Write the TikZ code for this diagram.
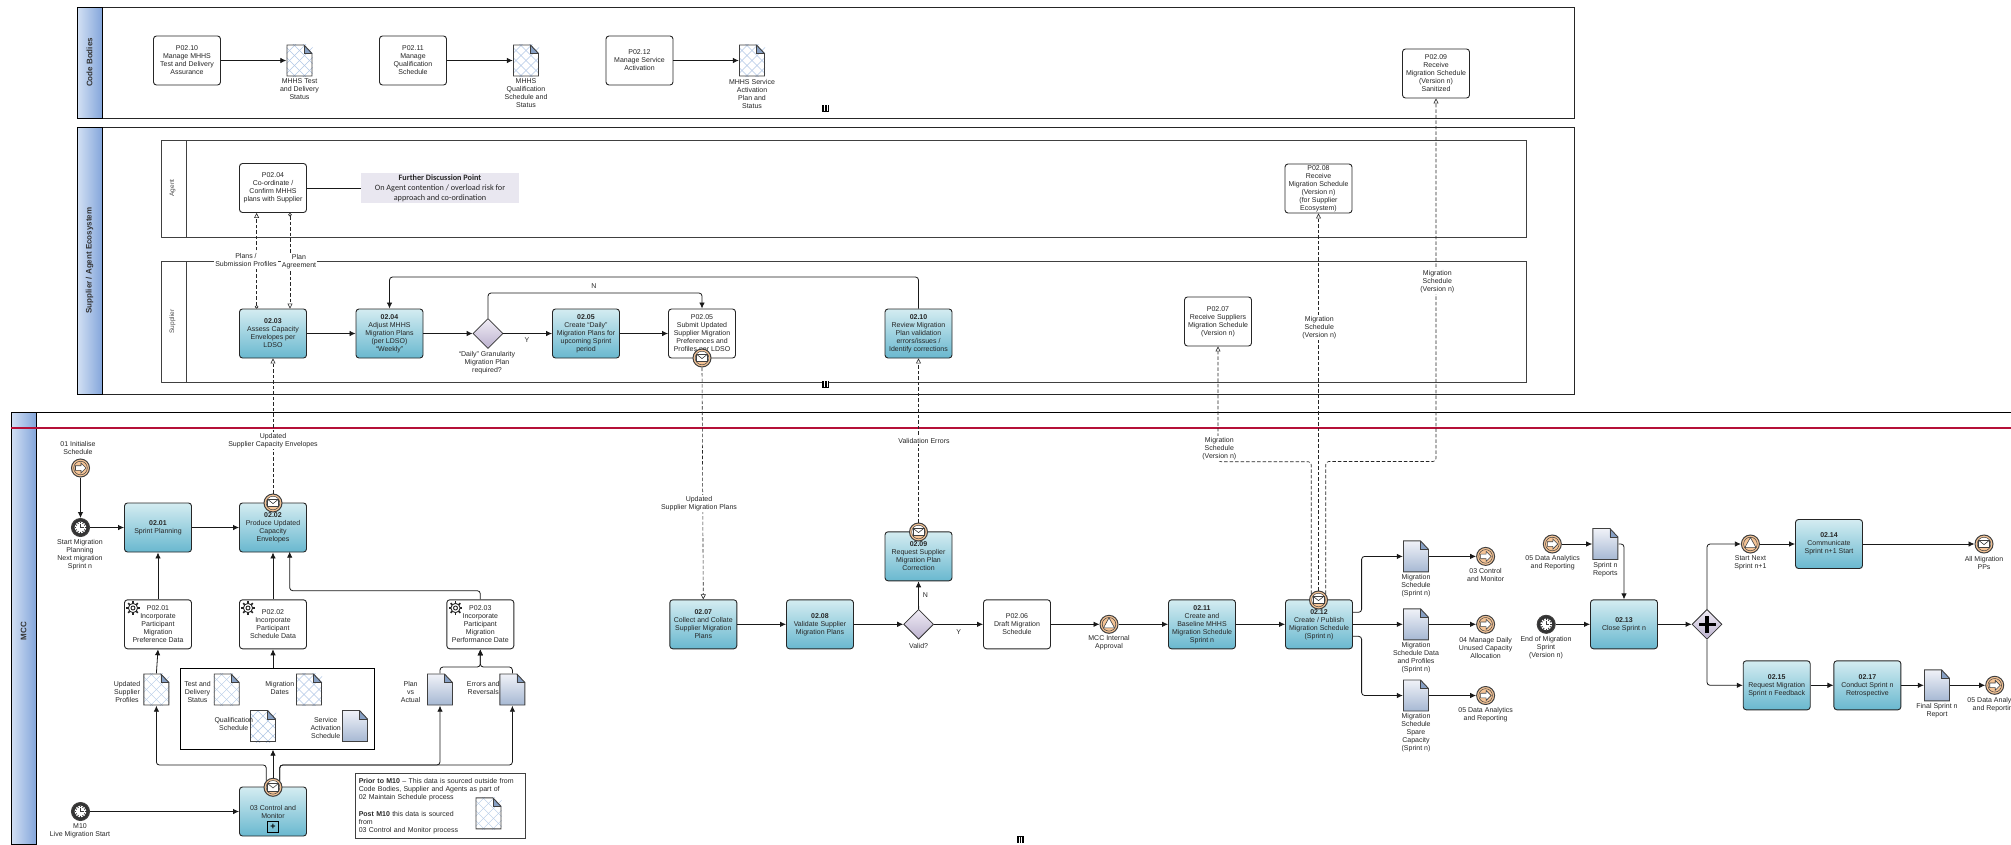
\documentclass[tikz,border=0pt]{standalone}
\usepackage{fontspec}
\usepackage{xcolor}
\usepackage{tikz}
\usetikzlibrary{arrows.meta,shapes.geometric}
\setmainfont{Liberation Sans}
\newfontfamily\calfont{Carlito}
\definecolor{taskband}{RGB}{212, 236, 241}
\definecolor{taskdeep}{RGB}{105, 184, 207}
\definecolor{poolband}{RGB}{210, 224, 244}
\definecolor{pooldeep}{RGB}{132, 166, 219}
\definecolor{doctop}{RGB}{240, 242, 248}
\definecolor{docbot}{RGB}{166, 184, 211}
\definecolor{foldblue}{RGB}{135, 160, 196}
\definecolor{hatchblue}{RGB}{178, 200, 230}
\definecolor{gatetop}{RGB}{240, 236, 245}
\definecolor{gatebot}{RGB}{188, 178, 207}
\definecolor{evtpeach}{RGB}{245, 196, 150}
\definecolor{notegrey}{RGB}{233, 231, 240}
\definecolor{mccred}{RGB}{181, 16, 56}

\newcommand{\docpath}{(-12.5,15.5) -- (-12.5,-15.5) -- (4.5,-15.5) -- (12.5,-7) -- (12.5,15.5) -- cycle}
\newcommand{\docfold}{
    \fill[foldblue] (4.5,-15.5) -- (4.5,-7) -- (12.5,-7) -- cycle;
    \draw[line width=.5pt, black!75] (4.5,-15.5) -- (4.5,-7) -- (12.5,-7);
    \draw[line width=.9pt, black!75] \docpath;
}
\newcommand{\shadedoc}{
    \begin{scope}[shift={(path picture bounding box.center)}]
        \shade[top color=doctop, bottom color=docbot] \docpath;
        \docfold
    \end{scope}
}
\newcommand{\hatchdoc}{
    \begin{scope}[shift={(path picture bounding box.center)}]
        \fill[white] \docpath;
        \foreach \k in {-50,-40,...,50} {
            \draw[hatchblue, line width=.4pt] (\k-20,-20) -- (\k+20,20);
            \draw[hatchblue, line width=.4pt] (\k-20,20) -- (\k+20,-20);
        }
        \docfold
    \end{scope}
}
\newcommand{\linkicon}{
    \begin{scope}[shift={(path picture bounding box.center)}]
        \draw[line width=.5pt] (0,0) circle (6.8);
        \draw[fill=white, line width=.6pt] (-5,-2.3) -- (.5,-2.3) -- (.5,-5) -- (5.5,0) -- (.5,5) -- (.5,2.3) -- (-5,2.3) -- cycle;
    \end{scope}
}
\newcommand{\mailicon}{
    \begin{scope}[shift={(path picture bounding box.center)}]
        \fill[white] (0,0) circle (6.8);
        \fill[evtpeach] (-7,3) rectangle (7,8);
        \draw[fill=white, line width=.6pt] (-5.5,-3.8) rectangle (5.5,3.6);
        \draw[line width=.6pt] (-5.5,-3.8) -- (0,.6) -- (5.5,-3.8);
        \draw[line width=.5pt] (0,0) circle (6.8);
    \end{scope}
}
\newcommand{\clockicon}{
    \begin{scope}[shift={(path picture bounding box.center)}]
        \fill[black!80] (0,0) circle (9);
        \fill[white] (0,0) circle (5.8);
        \foreach \a in {0,30,...,330} {
            \draw[line width=.9pt, black!80] (\a:4.2) -- (\a:6);
        }
        \draw[line width=.7pt] (0,-3.5) -- (0,0) -- (3,0);
    \end{scope}
}
\newcommand{\triicon}{
    \begin{scope}[shift={(path picture bounding box.center)}]
        \draw[line width=.5pt] (0,0) circle (6.8);
        \draw[fill=white, line width=.6pt] (0,-6.5) -- (5.6,3.6) -- (-5.6,3.6) -- cycle;
    \end{scope}
}
\newcommand{\gearicon}{
    \begin{scope}[shift={(path picture bounding box.center)}]
        \foreach \a in {0,45,...,315} {
            \draw[line width=1.6pt, black!85] (\a:4) -- (\a:6.8);
        }
        \draw[fill=white, draw=black!85, line width=.9pt] (0,0) circle (4.6);
        \draw[line width=.9pt, black!85] (0,0) circle (2);
    \end{scope}
}
\newcommand{\plusicon}{
    \begin{scope}[shift={(path picture bounding box.center)}]
        \fill[black] (-8.5,-1.8) rectangle (8.5,1.8);
        \fill[black] (-1.8,-8.5) rectangle (1.8,8.5);
    \end{scope}
}
\newcommand{\barsicon}{
    \begin{scope}[shift={(path picture bounding box.center)}]
        \draw[white, line width=.2pt] (-1.1,-3) -- (-1.1,3);
        \draw[white, line width=.2pt] (1.1,-3) -- (1.1,3);
    \end{scope}
}

\tikzset{
    txt/.style={font=\fontsize{7}{8}\selectfont, text=black!85, align=center, inner sep=0pt},
    lbl/.style={txt},
    wlbl/.style={txt, fill=white, inner sep=1pt},
    boxbase/.style={txt, draw=black!85, line width=.9pt, rounded corners=3pt, minimum width=67pt, minimum height=49pt},
    task/.style={boxbase, top color=taskband, bottom color=taskdeep},
    ptask/.style={boxbase, fill=white},
    gate/.style={diamond, draw=black!80, line width=.8pt, minimum width=30pt, minimum height=30pt, inner sep=0pt, top color=gatetop, bottom color=gatebot},
    doc/.style={minimum width=26pt, minimum height=32pt, inner sep=0pt, path picture={\shadedoc}},
    dochatch/.style={minimum width=26pt, minimum height=32pt, inner sep=0pt, path picture={\hatchdoc}},
    evt/.style={circle, draw=black!75, line width=1pt, fill=evtpeach, minimum size=18pt, inner sep=0pt},
    evtlink/.style={evt, path picture={\linkicon}},
    evtmail/.style={evt, path picture={\mailicon}},
    evttimer/.style={evt, path picture={\clockicon}},
    evttri/.style={evt, path picture={\triicon}},
    gearmark/.style={minimum size=14pt, inner sep=0pt, path picture={\gearicon}},
    pagemark/.style={fill=black, minimum size=7pt, inner sep=0pt, path picture={\barsicon}},
    flow/.style={draw=black!90, line width=.8pt, rounded corners=3pt, -{Latex[length=6pt,width=5.5pt]}},
    plainflow/.style={draw=black!90, line width=.8pt},
    msg/.style={draw=black!85, line width=.6pt, rounded corners=3pt, dash pattern=on 3.5pt off 2pt, -{Triangle[open,fill=white,length=5pt,width=5pt]}},
    msgo/.style={msg, {Circle[open,fill=white,length=3.5pt,width=3.5pt]}-{Triangle[open,fill=white,length=5pt,width=5pt]}},
    poolhead/.style={draw=black, line width=.8pt, left color=poolband, right color=pooldeep},
    poolname/.style={font=\fontsize{8}{9}\selectfont\bfseries, text=black!80, rotate=90, inner sep=0pt},
    lanename/.style={font=\fontsize{6.5}{8}\selectfont, text=black!70, rotate=90, inner sep=0pt},
    lanebox/.style={draw=black!75, line width=.7pt, dash pattern=on .4pt off .4pt},
}

\begin{document}
\begin{tikzpicture}[x=1pt, y=-1pt]
    \useasboundingbox (0,0) rectangle (2011,844);

    % Pools and lanes
    \draw[line width=.9pt, black!85] (77.5,7) rectangle (1574,118);
    \draw[poolhead] (77.5,7) rectangle (102,118);
    \node[poolname] (cbname) at (89.5,62.5) {Code Bodies};
    \draw[line width=.9pt, black!85] (77.5,127) rectangle (1574,394);
    \draw[poolhead] (77.5,127) rectangle (102,394);
    \node[poolname] (sename) at (89.5,260.5) {Supplier / Agent Ecosystem};
    \draw[lanebox] (161,140) rectangle (1526,237);
    \draw[lanebox] (186,140) -- (186,237);
    \node[lanename] (agname) at (172.5,188) {Agent};
    \draw[lanebox] (161,261) rectangle (1526,382);
    \draw[lanebox] (186,261) -- (186,382);
    \node[lanename] (suname) at (172.5,321.5) {Supplier};
    \draw[line width=.8pt, black] (11,844) -- (11,412) -- (2011,412);
    \draw[poolhead] (11,412) rectangle (36,844);
    \draw[mccred, line width=1.3pt] (11,428) -- (2011,428);
    \node[poolname] (mcname) at (23.5,631) {MCC};
    \node[pagemark] (markcb) at (825.5,108) {};
    \node[pagemark] (markse) at (825.5,384) {};
    \node[pagemark] (markmc) at (1020,839.5) {};

    % Code Bodies
    \node[ptask] (p10) at (187,60.5) {P02.10\\Manage MHHS\\Test and Delivery\\Assurance};
    \node[ptask] (p11) at (413,60.5) {P02.11\\Manage\\Qualification\\Schedule};
    \node[ptask] (p12) at (639.5,60.5) {P02.12\\Manage  Service\\Activation};
    \node[ptask] (p09) at (1436,73.5) {P02.09\\Receive\\Migration Schedule\\(Version n)\\Sanitized};
    \node[dochatch] (d10) at (299.5,60.5) {};
    \node[dochatch] (d11) at (526,60.5) {};
    \node[dochatch] (d12) at (752,60.5) {};
    \draw[flow] (p10.east) -- (d10.west);
    \draw[flow] (p11.east) -- (d11.west);
    \draw[flow] (p12.east) -- (d12.west);
    \node[lbl] (ld10) at (299.5,89.5) {MHHS Test\\and Delivery\\Status};
    \node[lbl] (ld11) at (526,93.5) {MHHS\\Qualification\\Schedule and\\Status};
    \node[lbl] (ld12) at (752,93.5) {MHHS Service\\Activation\\Plan and\\Status};

    % Agent and Supplier lanes
    \node[ptask] (p04) at (273,188) {P02.04\\Co-ordinate /\\Confirm MHHS\\plans with Supplier};
    \node[ptask] (p08) at (1318.5,188.5) {P02.08\\Receive\\Migration Schedule\\(Version n)\\(for Supplier\\Ecosystem)};
    \node[fill=notegrey, minimum width=158pt, minimum height=30pt, inner sep=0pt, align=center, font=\calfont\fontsize{8.2}{10}\selectfont, text=black!85] (further) at (440,188) {\textbf{Further Discussion Point}\\On Agent contention / overload risk for\\approach  and co-ordination};
    \draw[plainflow] (p04.east) -- (further.west);
    \node[task] (t0203) at (273,333.5) {\textbf{02.03}\\Assess Capacity\\Envelopes per\\LDSO};
    \node[task] (t0204) at (389.5,333.5) {\textbf{02.04}\\Adjust MHHS\\Migration Plans\\(per LDSO)\\``Weekly''};
    \node[gate] (gw1) at (488,333.5) {};
    \node[task] (t0205) at (586,333.5) {\textbf{02.05}\\Create ``Daily''\\Migration Plans for\\upcoming Sprint\\period};
    \node[ptask] (p05) at (702,333.5) {P02.05\\Submit Updated\\Supplier Migration\\Preferences and\\Profiles per LDSO};
    \node[task] (t0210) at (918.5,333.5) {\textbf{02.10}\\Review Migration\\Plan validation\\errors/issues /\\Identify corrections};
    \node[ptask] (p07) at (1218,321.5) {P02.07\\Receive Suppliers\\Migration Schedule\\(Version n)};
    \node[evtmail] (ev05) at (702,358) {};
    \draw[flow] (t0203.east) -- (t0204.west);
    \draw[flow] (t0204.east) -- (gw1.west);
    \draw[flow] (gw1.east) -- (t0205.west);
    \draw[flow] (t0205.east) -- (p05.west);
    \coordinate (gwtop) at (600,293);
    \draw[flow] (gw1.north) |- (gwtop) -| (p05.north);
    \coordinate (revtop) at (650,277);
    \draw[flow] (t0210.north) |- (revtop) -| (t0204.north);
    \node[lbl] (ln1) at (594,286.5) {N};
    \node[lbl] (ly1) at (527,340.5) {Y};
    \node[lbl] (lgw1) at (487,363) {``Daily'' Granularity\\Migration Plan\\required?};

    % MCC sprint planning
    \node[evtlink] (evinit) at (80.5,468) {};
    \node[evttimer] (evstart) at (80.5,527.5) {};
    \node[task] (t0201) at (158,527.5) {\textbf{02.01}\\Sprint Planning};
    \node[task] (t0202) at (273,527.5) {\textbf{02.02}\\Produce Updated\\Capacity\\Envelopes};
    \node[evtmail] (ev02) at (273,503) {};
    \node[ptask] (p01) at (158,624.3) {P02.01\\Incorporate\\Participant\\Migration\\Preference Data};
    \node[ptask] (p02) at (273,624.3) {P02.02\\Incorporate\\Participant\\Schedule Data};
    \node[ptask] (p03) at (480.3,624.3) {P02.03\\Incorporate\\Participant\\Migration\\Performance Date};
    \node[gearmark] (g1) at (133,608) {};
    \node[gearmark] (g2) at (248,608) {};
    \node[gearmark] (g3) at (455.5,608) {};
    \draw[flow] (evinit.south) -- (evstart.north);
    \draw[flow] (evstart.east) -- (t0201.west);
    \draw[flow] (t0201.east) -- (t0202.west);
    \draw[flow] (p01.north) -- (t0201.south);
    \draw[flow] (p02.north) -- (t0202.south);
    \coordinate (p3up) at (400,590.7);
    \coordinate (p3in) at (289.7,551.7);
    \draw[flow] (p03.north) |- (p3up) -| (p3in);
    \node[lbl] (linit) at (78,447.7) {01  Initialise\\Schedule};
    \node[lbl] (lstart) at (80,554.7) {Start Migration\\Planning\\Next migration\\Sprint n};

    % MCC data inputs
    \node[draw=black, line width=.9pt, minimum width=194pt, minimum height=81pt, inner sep=0pt] (dgroup) at (277,708.7) {};
    \node[dochatch] (dprof) at (156.4,689.5) {};
    \node[dochatch] (dtest) at (226.7,689.5) {};
    \node[dochatch] (ddates) at (309,689.5) {};
    \node[dochatch] (dqual) at (263,726) {};
    \node[doc] (dserv) at (355,726) {};
    \node[doc] (dplan) at (440,689.5) {};
    \node[doc] (derr) at (512.4,689.5) {};
    \node[lbl] (lprof) at (127,691.7) {Updated\\Supplier\\Profiles};
    \node[lbl] (ltest) at (197.5,691.7) {Test and\\Delivery\\Status};
    \node[lbl] (ldates) at (279.8,687.7) {Migration\\Dates};
    \node[lbl] (lqual) at (233.8,723.7) {Qualification\\Schedule};
    \node[lbl] (lserv) at (325.7,727.7) {Service\\Activation\\Schedule};
    \node[lbl] (lplan) at (410.6,691.7) {Plan\\vs\\Actual};
    \node[lbl] (lerr) at (483.3,687.7) {Errors and\\Reversals};
    \node[task] (t03) at (273,811.5) {03 Control and\\Monitor};
    \node[draw=black, line width=.7pt, minimum size=11pt, inner sep=0pt, font=\fontsize{9}{9}\selectfont\bfseries] (subm) at (273,827) {+};
    \node[evtmail] (ev03) at (273,787.3) {};
    \node[evttimer] (evm10) at (80.5,811.5) {};
    \draw[flow] (evm10.east) -- (t03.west);
    \draw[flow] (ev03.north) -- (ev03.north |- dgroup.south);
    \draw[flow] (dgroup.north -| p02.south) -- (p02.south);
    \draw[flow] (dprof.north) -- (p01.south);
    \coordinate (busl) at (200,765);
    \coordinate (busr) at (400,765);
    \draw[flow] (ev03.135) |- (busl) -| (dprof.south);
    \draw[flow] (ev03.45) |- (busr) -| (dplan.south);
    \draw[flow] (ev03.45) |- (busr) -| (derr.south);
    \coordinate (joinp) at (480.3,667);
    \draw[flow] (dplan.north) |- (joinp) -- (p03.south);
    \draw[flow] (derr.north) |- (joinp) -- (p03.south);
    \node[lbl] (lm10) at (80,830.7) {M10\\Live Migration Start};
    \node[draw=black!75, line width=1pt, anchor=north west, minimum height=65pt, text width=163pt, inner xsep=3.5pt, inner ysep=0pt, align=left, font=\fontsize{7}{8}\selectfont, text=black!85] (note) at (354.8,773) {\textbf{Prior to M10} -- This data is sourced outside from\\Code Bodies, Supplier and Agents as part of\\02 Maintain Schedule process\\[9pt]\textbf{Post M10} this data is sourced\\from\\03 Control and Monitor process};
    \node[dochatch] (dnote) at (488.5,813.4) {};

    % MCC migration schedule chain
    \node[task] (t0207) at (703.3,624.3) {\textbf{02.07}\\Collect and Collate\\Supplier Migration\\Plans};
    \node[task] (t0208) at (820,624.3) {\textbf{02.08}\\Validate Supplier\\Migration Plans};
    \node[gate] (gw2) at (918.6,624.3) {};
    \node[task] (t0209) at (918.5,556.3) {\textbf{02.09}\\Request Supplier\\Migration Plan\\Correction};
    \node[evtmail] (ev09) at (918.5,532) {};
    \node[ptask] (p06) at (1017,624.3) {P02.06\\Draft Migration\\Schedule};
    \node[evttri] (evappr) at (1109,624.3) {};
    \node[task] (t0211) at (1202,624.3) {\textbf{02.11}\\Create and\\Baseline MHHS\\Migration Schedule\\Sprint n};
    \node[task] (t0212) at (1319,624.3) {\textbf{02.12}\\Create / Publish\\Migration Schedule\\(Sprint n)};
    \node[evtmail] (ev12) at (1318.5,600) {};
    \draw[flow] (t0207.east) -- (t0208.west);
    \draw[flow] (t0208.east) -- (gw2.west);
    \draw[flow] (gw2.north) -- (t0209.south);
    \draw[flow] (gw2.east) -- (p06.west);
    \draw[flow] (p06.east) -- (evappr.west);
    \draw[flow] (evappr.east) -- (t0211.west);
    \draw[flow] (t0211.east) -- (t0212.west);
    \node[lbl] (ln2) at (925.5,594.7) {N};
    \node[lbl] (ly2) at (958.6,631.7) {Y};
    \node[lbl] (lgw2) at (918.6,645.7) {Valid?};
    \node[lbl] (lappr) at (1109,643) {MCC Internal\\Approval};

    % Message flows
    \draw[msgo] ([xshift=-16.4pt]t0203.north) -- ([xshift=-16.4pt]p04.south);
    \draw[msgo] ([xshift=17pt]p04.south) -- ([xshift=17pt]t0203.north);
    \draw[msg] (ev02.north) -- (t0203.south);
    \draw[msg] (ev05.south) -- (t0207.north);
    \draw[msg] (ev09.north) -- (t0210.south);
    \coordinate (msgl) at (1260,461.7);
    \coordinate (msgr) at (1380,461.5);
    \draw[msg] (ev12.140) |- (msgl) -| (p07.south);
    \draw[msg] (ev12.north) -- (p08.south);
    \draw[msg] (ev12.40) |- (msgr) -| (p09.south);
    \node[wlbl] (lplans) at (246,259.7) {Plans /\\Submission Profiles};
    \node[wlbl] (lagree) at (299,261.7) {Plan\\Agreement};
    \node[wlbl] (lcap) at (273,440.7) {Updated\\Supplier Capacity Envelopes};
    \node[wlbl] (lsmp) at (699,503.7) {Updated\\Supplier Migration Plans};
    \node[wlbl] (lval) at (924,440.7) {Validation Errors};
    \node[wlbl] (lms7) at (1219.3,448.7) {Migration\\Schedule\\(Version n)};
    \node[wlbl] (lms8) at (1319.3,327.7) {Migration\\Schedule\\(Version n)};
    \node[wlbl] (lms9) at (1437.3,281.7) {Migration\\Schedule\\(Version n)};

    % Publish outputs
    \node[doc] (dms1) at (1416,556.4) {};
    \node[doc] (dms2) at (1416,624.3) {};
    \node[doc] (dms3) at (1416,695.5) {};
    \node[evtlink] (ev31) at (1485.6,556.4) {};
    \node[evtlink] (ev32) at (1485.6,624.3) {};
    \node[evtlink] (ev33) at (1485.6,695.5) {};
    \coordinate (brtop) at (1361.6,600);
    \coordinate (brbot) at (1361.6,660);
    \draw[flow] ([yshift=12pt]t0212.east) -| (brtop) |- (dms1.west);
    \draw[flow] (t0212.east) -- (dms2.west);
    \draw[flow] ([yshift=-12pt]t0212.east) -| (brbot) |- (dms3.west);
    \draw[flow] (dms1.east) -- (ev31.west);
    \draw[flow] (dms2.east) -- (ev32.west);
    \draw[flow] (dms3.east) -- (ev33.west);
    \node[lbl] (lms1) at (1416,585.2) {Migration\\Schedule\\(Sprint n)};
    \node[lbl] (lms2) at (1416,657.7) {Migration\\Schedule Data\\and Profiles\\(Sprint n)};
    \node[lbl] (lms3) at (1416,733) {Migration\\Schedule\\Spare\\Capacity\\(Sprint n)};
    \node[lbl] (le31) at (1485.6,575.2) {03 Control\\and Monitor};
    \node[lbl] (le32) at (1485.6,647.5) {04 Manage Daily\\Unused Capacity\\Allocation};
    \node[lbl] (le33) at (1485.6,714.7) {05 Data Analytics\\and Reporting};

    % Close sprint
    \node[evtlink] (evda) at (1552.3,544) {};
    \node[doc] (drep) at (1605.4,544) {};
    \node[evttimer] (evend) at (1546.2,624.3) {};
    \node[task] (t0213) at (1624,624.3) {\textbf{02.13}\\Close Sprint n};
    \node[gate, path picture={\plusicon}] (gw3) at (1707,624.3) {};
    \node[evttri] (evnext) at (1750.4,544) {};
    \node[task] (t0214) at (1829,544) {\textbf{02.14}\\Communicate\\Sprint n+1 Start};
    \node[evtmail] (evpps) at (1984,544) {};
    \node[task] (t0215) at (1776.7,685.3) {\textbf{02.15}\\Request Migration\\Sprint n Feedback};
    \node[task] (t0217) at (1867.4,685.3) {\textbf{02.17}\\Conduct Sprint n\\Retrospective};
    \node[doc] (dfin) at (1937,685.3) {};
    \node[evtlink] (evfin) at (1994.7,685.3) {};
    \draw[flow] (evda.east) -- (drep.west);
    \draw[flow] (drep.east) -| (t0213.north);
    \draw[flow] (evend.east) -- (t0213.west);
    \draw[flow] (t0213.east) -- (gw3.west);
    \draw[flow] (gw3.north) |- (evnext.west);
    \draw[flow] (evnext.east) -- (t0214.west);
    \draw[flow] (t0214.east) -- (evpps.west);
    \draw[flow] (gw3.south) |- (t0215.west);
    \draw[flow] (t0215.east) -- (t0217.west);
    \draw[flow] (t0217.east) -- (dfin.west);
    \draw[flow] (dfin.east) -- (evfin.west);
    \node[lbl] (levda) at (1552.7,562.7) {05 Data Analytics\\and Reporting};
    \node[lbl] (lrep) at (1605.4,569.2) {Sprint n\\Reports};
    \node[lbl] (levend) at (1546,647.5) {End of Migration\\Sprint\\(Version n)};
    \node[lbl] (lnext) at (1750.4,562.7) {Start Next\\Sprint n+1};
    \node[lbl] (lpps) at (1984,562.7) {All Migration\\PPs};
    \node[lbl] (lfin) at (1937,710.7) {Final Sprint n\\Report};
    \node[lbl] (levfin) at (1994.7,704.5) {05 Data Analytics\\and Reporting};
\end{tikzpicture}
\end{document}
